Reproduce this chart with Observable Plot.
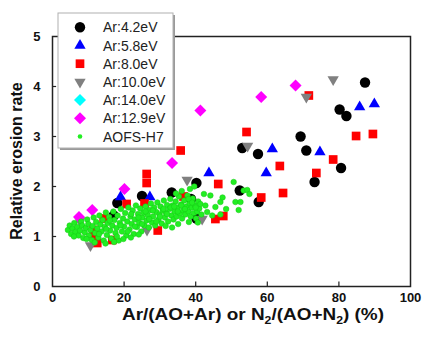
<!DOCTYPE html>
<html>
<head>
<meta charset="utf-8">
<script src="https://cdn.jsdelivr.net/npm/d3@7"></script>
<script src="https://cdn.jsdelivr.net/npm/@observablehq/plot@0.6"></script>
<style>
  body { margin: 0; background: #fff; }
  #chart { width: 424px; height: 338px; }
</style>
</head>
<body>
<div id="chart"></div>
<script>
const xTicks = [0, 20, 40, 60, 80, 100];
const yTicks = [0, 1, 2, 3, 4, 5];
const seriesNames = ["Ar:4.2eV", "Ar:5.8eV", "Ar:8.0eV", "Ar:10.0eV", "Ar:14.0eV", "Ar:12.9eV", "AOFS-H7"];

const ar42 = [[18.1,1.67],[17.1,1.42],[25,1.81],[33.3,1.88],[38.7,1.75],[40.2,2.07],[40.2,1.36],[52.3,1.92],[53,2.77],[57.4,2.65],[57.6,1.69],[69.3,3.0],[70.9,2.72],[73.2,2.09],[80.2,3.54],[82.1,3.41],[80.6,2.37],[87.3,4.08]];
const ar58 = [[19,1.79],[27.2,1.79],[43.7,2.27],[59.7,2.27],[61.4,2.75],[74.7,2.69],[85.8,3.59],[89.9,3.65]];
const ar80 = [[11.5,1.13],[12,1.02],[12.5,0.87],[14.3,1.36],[16.7,0.93],[20.7,1.65],[25.7,1.66],[26.3,2.25],[26.3,2.07],[29.4,1.12],[35.8,2.72],[36.6,1.8],[45.5,1.35],[47.7,1.41],[46.3,2.05],[54.2,3.09],[58.3,1.78],[63.5,2.41],[64.4,1.87],[71.6,3.82],[73.7,2.27],[78.4,2.54],[84.8,3.01],[89.5,3.05]];
const ar100 = [[7.6,1.32],[10.6,0.82],[26.4,1.13],[37.6,2.13],[41.8,1.35],[54.5,2.81],[70.9,3.79],[78.4,4.14]];
const ar140 = [];
const ar129 = [[7.4,1.39],[11.1,1.53],[20.1,1.95],[33.4,2.47],[41.3,3.52],[58.3,3.79],[67.9,4.02]];
const aofs = [
 [4.3,1.13],[4.8,1.22],[5.2,1.05],[5.6,1.16],[6.1,1.27],[6.4,1.09],[6.9,1.19],[7.3,1.02],[7.7,1.12],[8.0,1.30],[8.3,1.22],[8.6,0.97],[9.0,1.08],[9.3,1.17],[9.7,1.34],[10.0,1.25],[10.2,1.02],[10.6,1.13],[11.0,0.93],[11.2,1.21],[11.5,1.38],[11.9,1.07],[12.2,1.29],[12.5,1.16],
 [12.8,0.98],[13.1,1.42],[13.4,1.24],[13.7,1.10],[14.0,1.33],[14.3,0.92],[14.6,1.19],[14.9,1.48],[15.2,1.03],[15.4,1.27],[15.8,1.39],[16.1,1.12],[16.4,0.96],[16.7,1.22],[17.0,1.50],[17.3,1.33],[17.6,1.07],[17.9,1.17],[18.2,1.42],[18.5,0.92],[18.8,1.27],[19.1,1.55],[19.4,1.10],[19.7,1.36],[20.0,1.20],[20.3,1.47],
 [20.6,1.02],[20.9,1.30],[21.2,1.58],[21.5,1.14],[21.8,1.40],[22.1,1.25],[22.4,1.52],[22.7,1.05],[23.0,1.34],[23.3,1.62],[23.6,1.19],[23.9,1.45],[24.2,1.28],[24.5,1.56],[24.8,1.10],[25.1,1.38],[25.4,1.48],[25.7,1.22],[26.0,1.60],[26.3,1.32],[26.6,1.43],[26.9,1.18],[27.2,1.53],[27.5,1.66],[27.8,1.28],[28.1,1.40],
 [28.4,1.58],[28.7,1.22],[29.0,1.49],[29.3,1.68],[29.6,1.34],[29.9,1.44],[30.2,1.60],[30.5,1.26],[30.8,1.52],[31.1,1.72],[31.4,1.38],[31.7,1.47],[32.0,1.63],[32.3,1.30],[32.6,1.55],[32.9,1.75],[33.2,1.42],[33.5,1.62],[33.8,1.34],[34.1,1.50],[34.4,1.70],[34.7,1.40],[35.0,1.58],[35.3,1.80],[35.6,1.46],[35.9,1.64],
 [36.2,1.36],[36.5,1.52],[36.8,1.72],[37.1,1.44],[37.4,1.60],[37.7,1.82],[38.0,1.50],[38.3,1.66],[38.6,1.40],[38.9,1.58],[39.2,1.76],[39.5,1.47],[39.8,1.62],[40.1,1.36],[40.4,1.50],[40.7,1.70],[41.0,1.56],[41.3,1.65],[41.6,1.44],
 [42.3,1.85],[42.7,1.62],[43.2,1.49],[44.1,1.82],[44.6,1.42],[45.5,1.59],[46.9,1.69],[46.9,1.44],[47.5,1.78],[48.5,1.55],[50.6,2.09],[51.1,1.69],[52.0,1.53],[52.5,1.69],[53.4,1.92],[54.4,1.93],[55.0,1.85],
 [6.0,1.00],[9.5,0.95],[13.0,1.05],[15.0,1.15],[16.0,1.32],[18.0,1.00],[19.0,1.22],[21.0,1.10],[22.0,1.45],[23.0,1.20],[24.0,1.38],[25.0,1.25],[26.0,1.50],[27.0,1.35],[28.0,1.52],[29.0,1.30],[30.0,1.40],[31.0,1.55],[32.0,1.45],[33.0,1.58],[34.0,1.60],[35.0,1.50],[36.0,1.62],[37.0,1.55],[38.0,1.75],[39.0,1.68],[40.0,1.58],
 [11.8,0.88],[14.8,0.86],[17.2,0.89],[19.8,0.95],[21.9,0.98],[24.1,1.04],[34.5,1.86],[36.1,1.91],[38.4,1.95],[39.6,2.0],[35.1,1.25],[38.1,1.29],[40.6,1.28],[31.6,1.21],[33.4,1.18]
];

const triDown = {
  draw(context, size) {
    const y = Math.sqrt(size / (Math.sqrt(3) * 3));
    const s3 = Math.sqrt(3);
    context.moveTo(0, y * 2);
    context.lineTo(-s3 * y, -y);
    context.lineTo(s3 * y, -y);
    context.closePath();
  }
};

const styles = [
  {data: ar42, symbol: d3.symbolCircle, r: 5.2, fill: "#000000"},
  {data: ar58, symbol: d3.symbolTriangle, r: 4.2, fill: "#0000ff"},
  {data: ar80, symbol: d3.symbolSquare, r: 4.9, fill: "#ff0000"},
  {data: ar100, symbol: triDown, r: 4.2, fill: "#808080"},
  {data: ar140, symbol: d3.symbolDiamond2, r: 5.4, fill: "#00ffff"},
  {data: ar129, symbol: d3.symbolDiamond2, r: 5.4, fill: "#ff00ff"},
  {data: aofs, symbol: d3.symbolCircle, r: 2.8, fill: "#22ee22", stroke: "#14c814"}
];

const W = 424, H = 338, mL = 52, mR = 14, mT = 36, mB = 52;

const plot = Plot.plot({
  width: W, height: H,
  marginLeft: mL, marginRight: mR, marginTop: mT, marginBottom: mB,
  style: {fontFamily: "'Liberation Sans', Arial, sans-serif", color: "#111", background: "#fff"},
  x: {domain: [0, 100]},
  y: {domain: [0, 5]},
  marks: [
    Plot.axisY({ticks: yTicks, tickSize: 0, tickPadding: 12, fontSize: 13, fontWeight: "bold", label: null, tickFormat: d => d}),
    Plot.axisX({ticks: xTicks, tickSize: 0, tickPadding: 6, fontSize: 13, fontWeight: "bold", label: null, tickFormat: d => d}),
    Plot.ruleY(yTicks.slice(1, -1), {y: d => d, x1: 0, x2: 1.15, stroke: "#222", strokeWidth: 1.2}),
    Plot.ruleX(xTicks.slice(1, -1), {x: d => d, y1: 0, y2: 0.09, stroke: "#222", strokeWidth: 1.2}),
    ...styles.map(s => Plot.dot(s.data, {
      x: d => d[0], y: d => d[1], r: s.r, symbol: s.symbol, fill: s.fill,
      stroke: s.stroke || "none", strokeWidth: s.stroke ? 0.5 : 0
    })),
    Plot.frame({stroke: "#222", strokeWidth: 1.5})
  ]
});

document.getElementById("chart").appendChild(plot);

const svg = d3.select(plot);

// Y axis title
svg.append("text")
  .attr("transform", `translate(16,${(mT + H - mB) / 2}) rotate(-90)`)
  .attr("text-anchor", "middle")
  .attr("dy", "0.35em")
  .attr("font-size", 16)
  .attr("font-weight", "bold")
  .attr("fill", "#111")
  .text("Relative erosion rate");

// X axis title with subscripts
const xt = svg.append("text")
  .attr("x", 253).attr("y", 320)
  .attr("text-anchor", "middle")
  .attr("font-size", 17)
  .attr("font-weight", "bold")
  .attr("fill", "#111")
  .attr("textLength", 262)
  .attr("lengthAdjust", "spacingAndGlyphs");
xt.append("tspan").text("Ar/(AO+Ar) or N");
xt.append("tspan").attr("dy", 4).attr("font-size", 11).text("2");
xt.append("tspan").attr("dy", -4).text("/(AO+N");
xt.append("tspan").attr("dy", 4).attr("font-size", 11).text("2");
xt.append("tspan").attr("dy", -4).text(") (%)");

// Legend
const lg = svg.append("g");
lg.append("rect").attr("x", 60).attr("y", 15).attr("width", 115).attr("height", 135).attr("fill", "#9a9a9a");
lg.append("rect").attr("x", 58).attr("y", 13).attr("width", 115).attr("height", 135)
  .attr("fill", "#fff").attr("stroke", "#b0b0b0").attr("stroke-width", 1);
seriesNames.forEach((name, i) => {
  const s = styles[i];
  const cy = 27.3 + i * 18.2;
  const rr = i === 6 ? 2.3 : s.r;
  lg.append("path")
    .attr("transform", `translate(80,${cy})`)
    .attr("d", d3.symbol().type(s.symbol).size(Math.PI * rr * rr)())
    .attr("fill", s.fill);
  lg.append("text")
    .attr("x", 103).attr("y", cy).attr("dy", "0.36em")
    .attr("text-anchor", "start")
    .attr("font-size", 14).attr("fill", "#222")
    .text(name);
});
</script>
</body>
</html>
